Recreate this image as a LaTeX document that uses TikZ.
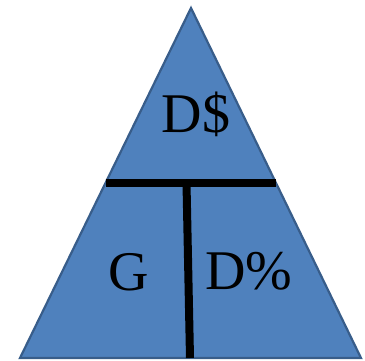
\documentclass[tikz,border=0pt]{standalone}
\usepackage{fontspec}
\setmainfont{Liberation Serif}
\definecolor{tfill}{HTML}{4F81BD}
\definecolor{tline}{HTML}{385D8A}
\begin{document}
\begin{tikzpicture}[x=1pt,y=1pt,
  lbl/.style={anchor=base,inner sep=0pt,font=\fontsize{56}{62}\selectfont},
  bar/.style={line width=8pt,black}]
\useasboundingbox (0,0) rectangle (365,360);
\coordinate (L) at (20,2);
\coordinate (R) at (361,2);
\coordinate (T) at (191,352);
\draw[fill=tfill,draw=tline,line width=2.2pt,line join=miter] (L) -- (R) -- (T) -- cycle;
\coordinate (hl) at (105.5,177);
\coordinate (hr) at (276,177);
\coordinate (vt) at (186.5,177);
\coordinate (vb) at (190,2);
\draw[bar] (hl) -- (hr);
\draw[bar] (vt) -- (vb);
\node[lbl] (ds) at (196,228) {D\$};
\node[lbl] (g) at (129,70) {G};
\node[lbl] (dp) at (249,71) {D\%};
\end{tikzpicture}
\end{document}
